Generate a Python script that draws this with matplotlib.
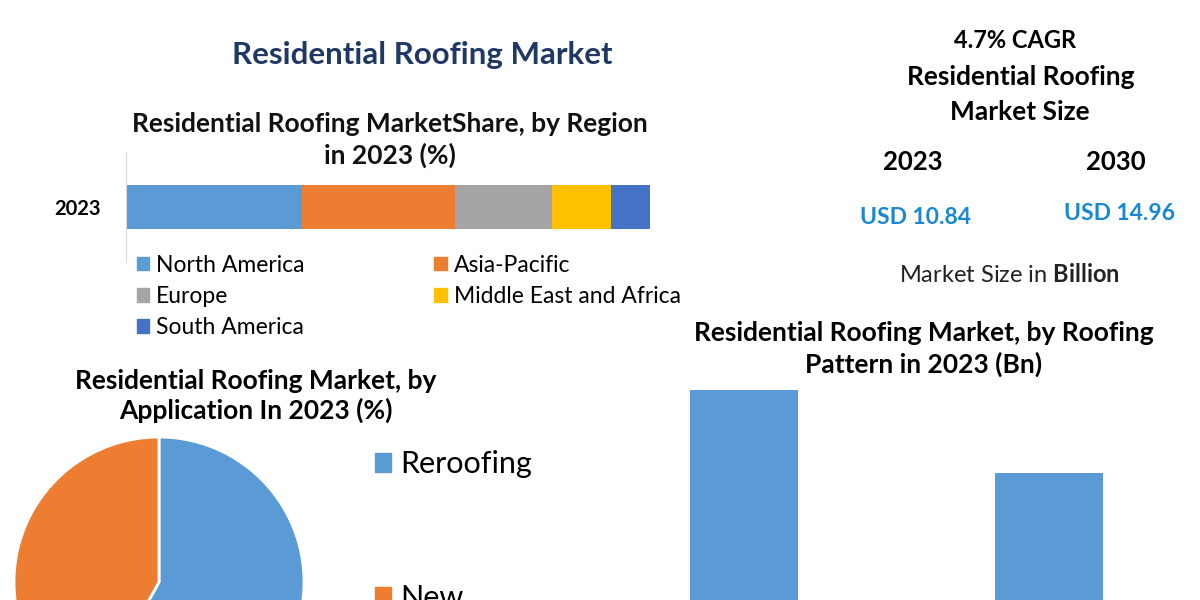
import matplotlib
matplotlib.use("Agg")
import matplotlib.pyplot as plt
from matplotlib.patches import Patch

plt.rcParams['font.family'] = ['Lato', 'DejaVu Sans']
plt.rcParams['mathtext.fontset'] = 'custom'
plt.rcParams['mathtext.bf'] = 'Lato:bold'
plt.rcParams['mathtext.rm'] = 'Lato'

# Region share in 2023 (%)
regions = ["North America", "Asia-Pacific", "Europe", "Middle East and Africa", "South America"]
region_share = [33.5, 29.3, 18.5, 11.3, 7.4]
region_colors = ["#5B9BD5", "#ED7D31", "#A5A5A5", "#FFC000", "#4472C4"]

# Application split in 2023 (%)
applications = ["Reroofing", "New"]
application_share = [58, 42]
application_colors = ["#5B9BD5", "#ED7D31"]

# Roofing pattern in 2023 (Bn), bottom of the bars is cut off
patterns = ["Pattern 1", "Pattern 2"]
pattern_values = [6.4, 4.44]

years = ["2023", "2030"]
market_size = ["USD 10.84", "USD 14.96"]

W, H = 1200, 600
NAVY = "#1F3864"
VALUE_BLUE = "#1A88D0"


def fx(px):
    return px / W


def fy(py):
    return 1 - py / H


def box(left, top, right, bottom):
    return [fx(left), fy(bottom), (right - left) / W, (bottom - top) / H]


fig = plt.figure(figsize=(12, 6), dpi=100)
fig.patch.set_facecolor("white")

# titles
fig.text(fx(422), fy(55), "Residential Roofing Market", ha="center", va="center",
         fontsize=22.5, fontweight="bold", color=NAVY)
fig.text(fx(390), fy(140), "Residential Roofing MarketShare, by Region\nin 2023 (%)",
         ha="center", va="center", fontsize=19, fontweight="bold", color="#111111",
         linespacing=1.3)

# stacked bar by region
ax_bar = fig.add_axes(box(126, 152, 650, 262))
left = 0
for name, val, col in zip(regions, region_share, region_colors):
    ax_bar.barh(0, val, left=left, height=0.4, color=col, label=name)
    left += val
ax_bar.set_xlim(0, sum(region_share))
ax_bar.set_ylim(-0.5, 0.5)
ax_bar.set_yticks([0])
ax_bar.set_yticklabels(["2023"], fontsize=14.5, fontweight="bold")
ax_bar.tick_params(axis="y", length=0, pad=18)
ax_bar.set_xticks([])
for s in ["top", "right", "bottom"]:
    ax_bar.spines[s].set_visible(False)
ax_bar.spines["left"].set_color("#D9D9D9")

# legend in row order: NA, AP / Europe, MEA / SA
order = [0, 2, 4, 1, 3]
handles = [Patch(color=region_colors[i]) for i in order]
labels = [regions[i] for i in order]
fig.legend(handles, labels, ncol=2, loc="upper left",
           bbox_to_anchor=(fx(116), fy(234)), frameon=False, fontsize=16.5,
           handlelength=0.55, handleheight=0.55, handletextpad=0.3,
           columnspacing=5.65, labelspacing=0.45)

# right side summary
fig.text(fx(1015), fy(40), "4.7% CAGR", ha="center", va="center", fontsize=17, fontweight="bold")
fig.text(fx(1021), fy(77), "Residential Roofing", ha="center", va="center", fontsize=19, fontweight="bold")
fig.text(fx(1020), fy(112), "Market Size", ha="center", va="center", fontsize=19, fontweight="bold")
for x, yr, val, vy in zip([913, 1116], years, market_size, [217, 213]):
    fig.text(fx(x), fy(162), yr, ha="center", va="center", fontsize=18.5, fontweight="bold")
    fig.text(fx(x + 3), fy(vy), val, ha="center", va="center", fontsize=16.5,
             fontweight="bold", color=VALUE_BLUE)
fig.text(fx(1009), fy(275), "Market Size in $\\mathbf{Billion}$", ha="center", va="center",
         fontsize=17, color="#222222")

# pie by application
fig.text(fx(256), fy(396), "Residential Roofing Market, by\nApplication In 2023 (%)",
         ha="center", va="center", fontsize=19, fontweight="bold", linespacing=1.25)
ax_pie = fig.add_axes(box(14, 437, 304, 727))
ax_pie.pie(application_share, colors=application_colors, startangle=90, counterclock=False,
           wedgeprops=dict(edgecolor="white", linewidth=2))
ax_pie.set_xlim(-1, 1)
ax_pie.set_ylim(-1, 1)
fig.legend([Patch(color=c) for c in application_colors], applications, loc="upper left",
           bbox_to_anchor=(fx(347), fy(423)), frameon=False, fontsize=22,
           handlelength=0.55, handleheight=0.55, handletextpad=0.3, labelspacing=3.45)

# bars by roofing pattern
fig.text(fx(924), fy(349), "Residential Roofing Market, by Roofing\nPattern in 2023 (Bn)",
         ha="center", va="center", fontsize=19, fontweight="bold", linespacing=1.3)
ax_pat = fig.add_axes(box(660, 380, 1140, 600))
ax_pat.bar(range(len(patterns)), pattern_values, width=0.354, color="#5B9BD5")
ax_pat.set_xlim(-0.275, 1.298)
ax_pat.set_ylim(1.47, 6.63)
ax_pat.axis("off")

fig.savefig("out.png", dpi=100, facecolor="white")
